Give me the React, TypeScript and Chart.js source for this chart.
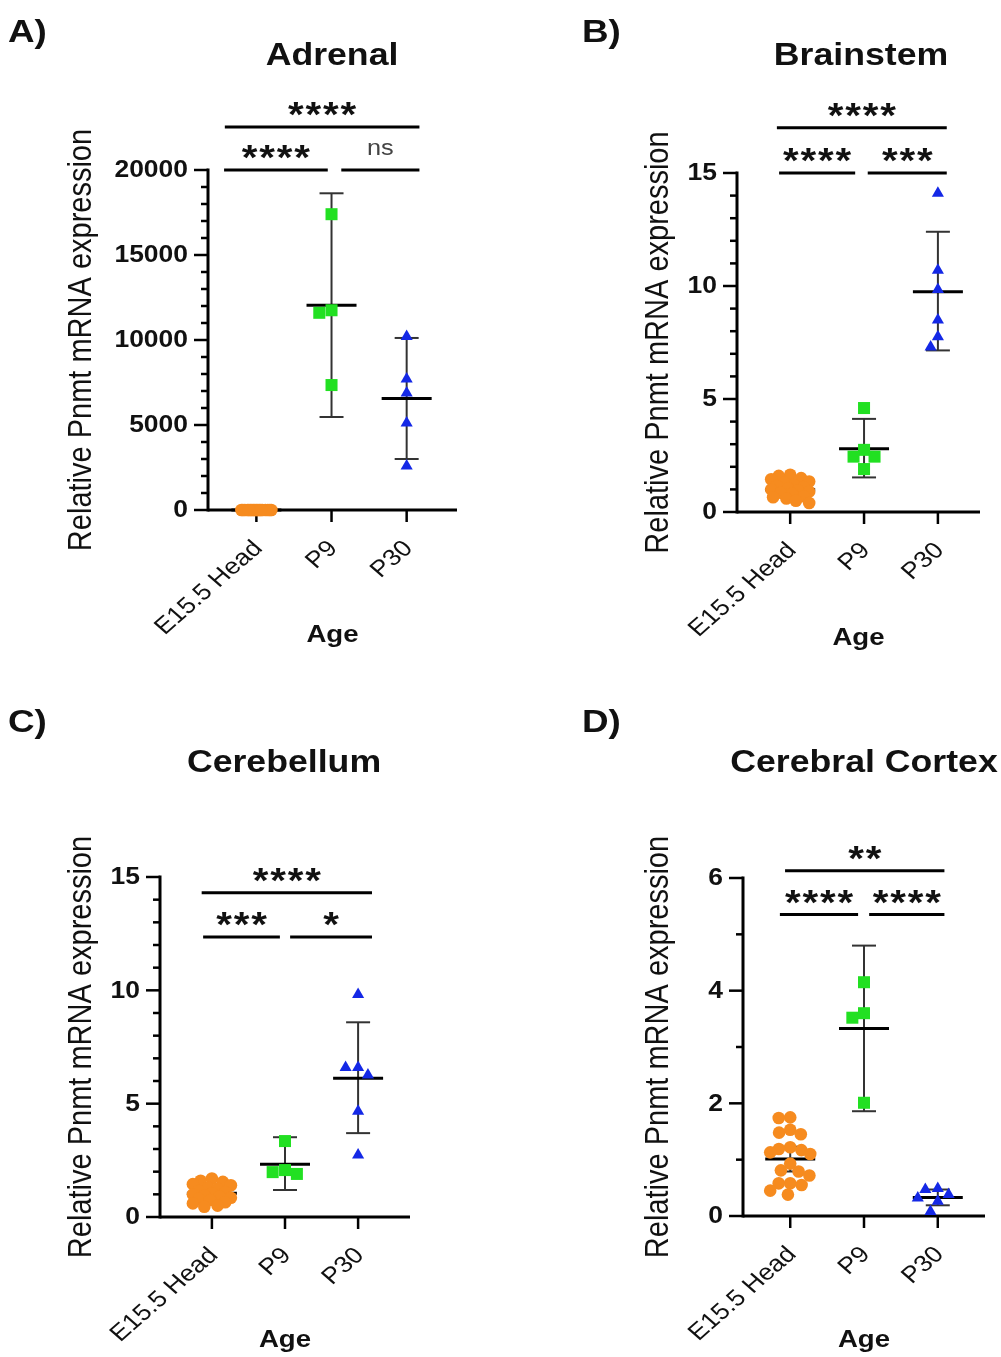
import React, { useEffect, useRef } from "react";
import { Chart, registerables } from "chart.js";

Chart.register(...registerables);

// ---------------- DATA ----------------
const categories = ["E15.5 Head", "P9", "P30"];

// A) Adrenal
const adrenalE15 = [1.6, 1.5, 1.4, 1.3, 1.2, 1.1, 1.05, 1.0, 0.95, 0.9, 0.85, 0.8, 0.75, 0.7, 0.6, 0.5, 0.45, 0.4];
const adrenalP9 = [17400, 11750, 11600, 7350];
const adrenalP30 = [10200, 7700, 6880, 5120, 2590];
const adrenalMean = [1.0, 12050, 6560];
const adrenalLow = [0.8, 5470, 3000];
const adrenalHigh = [1.2, 18630, 10120];
const adrenalTicks = { max: 20000, major: 5000, minor: 1000 };
const adrenalSig = [
  { from: -0.42, to: 2.17, level: 22530, label: "****" },
  { from: -0.43, to: 0.95, level: 20000, label: "****" },
  { from: 1.13, to: 2.17, level: 20000, label: "ns" },
];

// B) Brainstem
const brainE15 = [1.65, 1.6, 1.5, 1.45, 1.35, 1.3, 1.2, 1.15, 1.1, 1.05, 1.0, 0.95, 0.9, 0.85, 0.8, 0.7, 0.65, 0.6, 0.5, 0.4];
const brainP9 = [4.6, 2.75, 2.45, 2.45, 1.9];
const brainP30 = [14.1, 10.7, 9.85, 8.5, 7.75, 7.3];
const brainMean = [0.98, 2.8, 9.75];
const brainLow = [0.86, 1.53, 7.15];
const brainHigh = [1.1, 4.12, 12.4];
const brainTicks = { max: 15, major: 5, minor: 1 };
const brainSig = [
  { from: -0.18, to: 2.12, level: 17.0, label: "****" },
  { from: -0.15, to: 0.88, level: 15.0, label: "****" },
  { from: 1.05, to: 2.12, level: 15.0, label: "***" },
];

// C) Cerebellum
const cereE15 = [1.7, 1.6, 1.55, 1.45, 1.4, 1.3, 1.25, 1.15, 1.1, 1.05, 1.0, 0.95, 0.9, 0.85, 0.8, 0.75, 0.65, 0.6, 0.5, 0.45];
const cereP9 = [3.35, 2.07, 1.9, 1.98];
const cereP30 = [9.82, 6.6, 6.6, 6.26, 4.67, 2.73];
const cereMean = [1.05, 2.33, 6.12];
const cereLow = [0.9, 1.19, 3.7];
const cereHigh = [1.2, 3.52, 8.59];
const cereTicks = { max: 15, major: 5, minor: 1 };
const cereSig = [
  { from: -0.14, to: 2.19, level: 14.3, label: "****" },
  { from: -0.12, to: 0.93, level: 12.35, label: "***" },
  { from: 1.07, to: 2.19, level: 12.35, label: "*" },
];

// D) Cerebral Cortex
const cortexE15 = [1.75, 1.74, 1.53, 1.48, 1.45, 1.22, 1.19, 1.17, 1.13, 1.1, 0.93, 0.81, 0.79, 0.72, 0.58, 0.58, 0.55, 0.45, 0.38];
const cortexP9 = [4.15, 3.6, 3.52, 2.01];
const cortexP30 = [0.49, 0.47, 0.38, 0.32, 0.26, 0.08];
const cortexMean = [1.01, 3.33, 0.33];
const cortexLow = [0.79, 1.86, 0.19];
const cortexHigh = [1.23, 4.8, 0.47];
const cortexTicks = { max: 6, major: 2, minor: 1 };
const cortexSig = [
  { from: -0.07, to: 2.09, level: 6.13, label: "**" },
  { from: -0.14, to: 0.92, level: 5.35, label: "****" },
  { from: 1.07, to: 2.09, level: 5.35, label: "****" },
];

const yTitle = "Relative Pnmt mRNA expression";
const xTitle = "Age";

// ---------------- STYLE / LAYOUT ----------------
const FONT = '"Liberation Sans", Arial, Helvetica, sans-serif';
const SX = 1.15; // horizontal stretch of the original figure text
const GROUP_STYLE = [
  { color: "#F68B1F", style: "circle", radius: 6.3, d: 11.5 },
  { color: "#22E022", style: "rect", radius: 8.5, d: 12.5 },
  { color: "#1428E6", style: "triangle", radius: 7, d: 12.5 },
];

const PANELS = [
  {
    left: 0, top: 0, w: 500, h: 678,
    area: { l: 208, r: 457, t: 170, b: 510 }, xMin: -0.644, xMax: 2.67,
    title: "Adrenal", titleX: 332, titleY: 65, label: "A)", labelX: 8, labelY: 42,
    yTitleX: 91, ageY: 642, orangeW: 15,
    groups: [adrenalE15, adrenalP9, adrenalP30], mean: adrenalMean, low: adrenalLow, high: adrenalHigh,
    ticks: adrenalTicks, sig: adrenalSig,
  },
  {
    left: 500, top: 0, w: 501, h: 678,
    area: { l: 237, r: 480, t: 173, b: 512 }, xMin: -0.72, xMax: 2.57,
    title: "Brainstem", titleX: 361, titleY: 65, label: "B)", labelX: 82, labelY: 42,
    yTitleX: 168, ageY: 645, orangeW: 19,
    groups: [brainE15, brainP9, brainP30], mean: brainMean, low: brainLow, high: brainHigh,
    ticks: brainTicks, sig: brainSig,
  },
  {
    left: 0, top: 678, w: 500, h: 679,
    area: { l: 160, r: 410, t: 199, b: 539 }, xMin: -0.71, xMax: 2.71,
    title: "Cerebellum", titleX: 284, titleY: 94, label: "C)", labelX: 8, labelY: 54,
    yTitleX: 91, ageY: 669, orangeW: 19,
    groups: [cereE15, cereP9, cereP30], mean: cereMean, low: cereLow, high: cereHigh,
    ticks: cereTicks, sig: cereSig,
  },
  {
    left: 500, top: 678, w: 501, h: 679,
    area: { l: 243, r: 485, t: 200, b: 538 }, xMin: -0.64, xMax: 2.64,
    title: "Cerebral Cortex", titleX: 364, titleY: 94, label: "D)", labelX: 82, labelY: 54,
    yTitleX: 168, ageY: 669, orangeW: 20,
    groups: [cortexE15, cortexP9, cortexP30], mean: cortexMean, low: cortexLow, high: cortexHigh,
    ticks: cortexTicks, sig: cortexSig,
  },
];

// ---------------- HELPERS ----------------
function drawText(ctx, s, x, y, font, align, baseline, color, rot = 0) {
  ctx.save();
  ctx.translate(x, y);
  ctx.scale(SX, 1);
  if (rot) ctx.rotate(rot);
  ctx.font = font;
  ctx.textAlign = align;
  ctx.textBaseline = baseline;
  ctx.fillStyle = color;
  ctx.fillText(s, 0, 0);
  ctx.restore();
}

function line(ctx, x1, y1, x2, y2, w, color) {
  ctx.beginPath();
  ctx.moveTo(x1, y1);
  ctx.lineTo(x2, y2);
  ctx.lineWidth = w;
  ctx.strokeStyle = color;
  ctx.stroke();
}

// simple bee-swarm layout in pixel space
function swarmOffsets(pys, d, W) {
  const idx = pys.map((_, i) => i).sort((a, b) => pys[a] - pys[b]);
  const placed = [];
  const out = new Array(pys.length).fill(0);
  for (const i of idx) {
    const y = pys[i];
    const intervals = [];
    placed.forEach((p) => {
      const dy = Math.abs(p.y - y);
      if (dy < d) {
        const h = Math.sqrt(d * d - dy * dy);
        intervals.push([p.x - h, p.x + h]);
      }
    });
    const cands = [0];
    intervals.forEach(([a, b]) => cands.push(a, b));
    const ok = cands.filter(
      (c) => Math.abs(c) <= W + 1e-6 && intervals.every(([a, b]) => c <= a + 1e-6 || c >= b - 1e-6)
    );
    let best = 0;
    if (ok.length) {
      best = ok.reduce((m, c) => (Math.abs(c) < Math.abs(m) - 1e-6 ? c : m), ok[0]);
    } else {
      let bestScore = -1;
      for (let k = -10; k <= 10; k++) {
        const c = (k / 10) * W;
        let md = Infinity;
        placed.forEach((p) => {
          const dd = Math.hypot(p.x - c, p.y - y);
          if (dd < md) md = dd;
        });
        if (md > bestScore + 1e-6) {
          bestScore = md;
          best = c;
        }
      }
    }
    out[i] = best;
    placed.push({ x: best, y });
  }
  return out;
}

function makePlugin(p) {
  return {
    id: "panelDeco",
    beforeDatasetsDraw(chart) {
      const ctx = chart.ctx;
      const xs = chart.scales.x;
      const ys = chart.scales.y;
      const y0 = ys.getPixelForValue(0);
      const yTop = ys.getPixelForValue(p.ticks.max);
      const ax = chart.chartArea.left;
      ctx.save();
      ctx.lineCap = "butt";
      // y axis
      line(ctx, ax, y0 + 1.5, ax, yTop - 1.5, 3, "#000");
      // y ticks
      const n = Math.round(p.ticks.max / p.ticks.minor);
      for (let i = 0; i <= n; i++) {
        const v = i * p.ticks.minor;
        const py = ys.getPixelForValue(v);
        const r = v / p.ticks.major;
        const major = Math.abs(r - Math.round(r)) < 1e-6;
        line(ctx, ax - (major ? 14 : 7), py, ax, py, 2.5, "#000");
        if (major) {
          drawText(ctx, String(v), ax - 20, py + 1, `bold 23px ${FONT}`, "right", "middle", "#111");
        }
      }
      // x axis
      line(ctx, ax, y0, chart.chartArea.right, y0, 3, "#000");
      categories.forEach((c, i) => {
        const px = xs.getPixelForValue(i);
        line(ctx, px, y0, px, y0 + 12, 2.5, "#000");
      });
      // error bars (behind points)
      p.mean.forEach((m, i) => {
        const px = xs.getPixelForValue(i);
        const pl = ys.getPixelForValue(p.low[i]);
        const ph = ys.getPixelForValue(p.high[i]);
        const pm = ys.getPixelForValue(m);
        line(ctx, px, pl, px, ph, 2, "#333");
        line(ctx, px - 12, pl, px + 12, pl, 2, "#333");
        line(ctx, px - 12, ph, px + 12, ph, 2, "#333");
        line(ctx, px - 25, pm, px + 25, pm, 3, "#000");
      });
      ctx.restore();
    },
    afterDraw(chart) {
      const ctx = chart.ctx;
      const xs = chart.scales.x;
      const ys = chart.scales.y;
      const y0 = ys.getPixelForValue(0);
      const ca = chart.chartArea;
      ctx.save();
      // x tick labels (rotated)
      categories.forEach((c, i) => {
        const px = xs.getPixelForValue(i);
        drawText(ctx, c, px + 2, y0 + 35, `23px ${FONT}`, "right", "middle", "#111", -Math.PI / 4);
      });
      // axis titles
      drawText(ctx, xTitle, (ca.left + ca.right) / 2, p.ageY, `bold 24px ${FONT}`, "center", "alphabetic", "#111");
      drawText(ctx, yTitle, p.yTitleX, (ca.top + ca.bottom) / 2, `29px ${FONT}`, "center", "alphabetic", "#111", -Math.PI / 2);
      // panel title & label
      drawText(ctx, p.title, p.titleX, p.titleY, `bold 31px ${FONT}`, "center", "alphabetic", "#111");
      drawText(ctx, p.label, p.labelX, p.labelY, `bold 32px ${FONT}`, "left", "alphabetic", "#111");
      // significance bars
      p.sig.forEach((s) => {
        const x1 = xs.getPixelForValue(s.from);
        const x2 = xs.getPixelForValue(s.to);
        const py = ys.getPixelForValue(s.level);
        line(ctx, x1, py, x2, py, 3, "#000");
        const cx = (x1 + x2) / 2;
        const cy = py - 21;
        if (s.label === "ns") {
          drawText(ctx, s.label, cx, cy, `22px ${FONT}`, "center", "middle", "#444");
        } else {
          const chars = s.label.split("");
          chars.forEach((ch, k) => {
            const sx = cx + (k - (chars.length - 1) / 2) * 17.5;
            drawText(ctx, ch, sx, cy + 20, `bold 35px ${FONT}`, "center", "alphabetic", "#111");
          });
        }
      });
      ctx.restore();
    },
  };
}

function makeChart(canvas, p) {
  const datasets = p.groups.map((vals, gi) => ({
    label: categories[gi],
    data: vals.map((v) => ({ x: gi, y: v })),
    pointStyle: GROUP_STYLE[gi].style,
    pointRadius: GROUP_STYLE[gi].radius,
    pointBackgroundColor: GROUP_STYLE[gi].color,
    pointBorderColor: GROUP_STYLE[gi].color,
    pointBorderWidth: 0,
    showLine: false,
    clip: false,
  }));
  const chart = new Chart(canvas, {
    type: "scatter",
    data: { datasets },
    options: {
      animation: false,
      responsive: false,
      events: [],
      layout: {
        padding: { left: p.area.l, right: p.w - p.area.r, top: p.area.t, bottom: p.h - p.area.b },
      },
      scales: {
        x: { type: "linear", min: p.xMin, max: p.xMax, display: false },
        y: { type: "linear", min: 0, max: p.ticks.max, display: false },
      },
      plugins: { legend: { display: false }, tooltip: { enabled: false } },
    },
    plugins: [makePlugin(p)],
  });
  // spread points horizontally (bee-swarm) using the chart's scales
  const xs = chart.scales.x;
  const ys = chart.scales.y;
  p.groups.forEach((vals, gi) => {
    const pys = vals.map((v) => ys.getPixelForValue(v));
    const W = gi === 0 ? p.orangeW : 20;
    const offs = swarmOffsets(pys, GROUP_STYLE[gi].d, W);
    const cx = xs.getPixelForValue(gi);
    chart.data.datasets[gi].data = vals.map((v, i) => ({ x: xs.getValueForPixel(cx + offs[i]), y: v }));
  });
  chart.update();
  return chart;
}

export default function App() {
  const r0 = useRef(null);
  const r1 = useRef(null);
  const r2 = useRef(null);
  const r3 = useRef(null);
  const refs = [r0, r1, r2, r3];
  useEffect(() => {
    const charts = PANELS.map((p, i) => makeChart(refs[i].current, p));
    return () => charts.forEach((c) => c.destroy());
  }, []);
  return (
    <div
      style={{
        position: "absolute",
        left: 0,
        top: 0,
        width: 1001,
        height: 1357,
        background: "#fff",
        overflow: "hidden",
      }}
    >
      {PANELS.map((p, i) => (
        <canvas
          key={i}
          ref={refs[i]}
          width={p.w}
          height={p.h}
          style={{ position: "absolute", left: p.left, top: p.top, width: p.w, height: p.h }}
        />
      ))}
    </div>
  );
}
